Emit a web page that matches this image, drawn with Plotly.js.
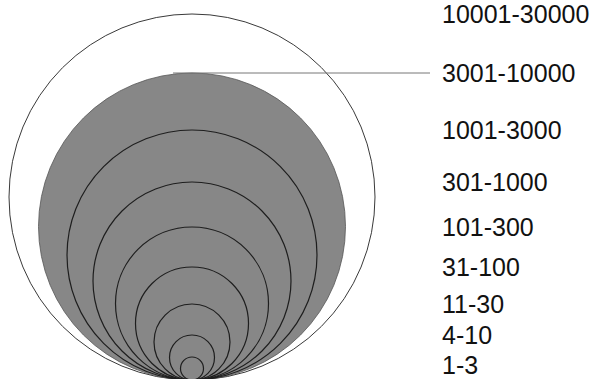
<!DOCTYPE html>
<html>
<head>
<meta charset="utf-8">
<script src="https://cdn.plot.ly/plotly-3.0.1.min.js"></script>
<style>html,body{margin:0;padding:0;background:#fff;}#chart{width:601px;height:379px;}</style>
</head>
<body>
<div id="chart"></div>
<script>
// Size classes (outermost first) and the diameter of each nested circle (chart units)
var categories = ["10001-30000", "3001-10000", "1001-3000", "301-1000", "101-300", "31-100", "11-30", "4-10", "1-3"];
var diameters  = [366, 307, 250, 198, 153, 113, 76, 45, 23];

// Layout constants (not data)
var CX = 192;       // common horizontal centre
var BASE = 380;     // common tangent point (bottom), pixel-like units, y down
var LABEL_X = 440;
var LABEL_GAP = 30; // minimum vertical spacing between labels
var HIGHLIGHT = 1;  // index of the filled (gray) class

var shapes = [];
var annotations = [];
var prevLabelY = -Infinity;
categories.forEach(function (cat, i) {
  var d = diameters[i];
  var r = d / 2;
  var top = BASE - d;
  var style;
  if (i === 0) {
    style = {fillcolor: "#ffffff", line: {color: "#3a3a3a", width: 1}};
  } else if (i === HIGHLIGHT) {
    style = {fillcolor: "#878787", line: {color: "#555555", width: 0.8}};
  } else {
    style = {fillcolor: "rgba(0,0,0,0)", line: {color: "#1e1e1e", width: 1.2}};
  }
  shapes.push(Object.assign({
    type: "circle", xref: "x", yref: "y",
    x0: CX - r, x1: CX + r, y0: top, y1: BASE, layer: "above"
  }, style));
  var ly = Math.max(top, prevLabelY + LABEL_GAP);
  prevLabelY = ly;
  annotations.push({
    x: LABEL_X, y: ly, xref: "x", yref: "y",
    text: cat, showarrow: false, xanchor: "left", yanchor: "middle",
    font: {family: "Liberation Sans, Arial, sans-serif", size: 25, color: "#111111"}
  });
});
// leader line from top of the highlighted circle to its label
var hlTop = BASE - diameters[HIGHLIGHT];
shapes.push({
  type: "line", xref: "x", yref: "y",
  x0: CX - 19, x1: LABEL_X - 10, y0: hlTop, y1: hlTop,
  line: {color: "#777777", width: 1}, layer: "above"
});

var data = [{x: [], y: [], type: "scatter", mode: "markers", hoverinfo: "skip", showlegend: false}];

var layout = {
  width: 601, height: 379,
  margin: {l: 0, r: 0, t: 0, b: 0, pad: 0},
  paper_bgcolor: "#ffffff", plot_bgcolor: "#ffffff",
  showlegend: false,
  xaxis: {range: [0, 601], visible: false, fixedrange: true},
  yaxis: {range: [379, 0], visible: false, fixedrange: true},
  shapes: shapes,
  annotations: annotations
};

Plotly.newPlot("chart", data, layout, {staticPlot: true, displayModeBar: false});
</script>
</body>
</html>
